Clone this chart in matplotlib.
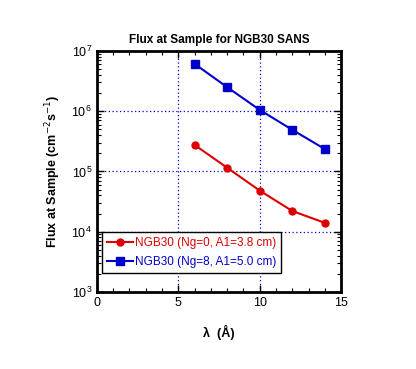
import matplotlib
matplotlib.use("Agg")
import matplotlib.pyplot as plt
from matplotlib.ticker import LogLocator, MultipleLocator, NullFormatter

plt.rcParams["font.family"] = ["Liberation Sans", "DejaVu Sans"]

wavelength = [6, 8, 10, 12, 14]
flux_ng0 = [2.75e5, 1.15e5, 4.8e4, 2.2e4, 1.4e4]
flux_ng8 = [6.1e6, 2.5e6, 1.05e6, 4.9e5, 2.35e5]
labels = ["NGB30 (Ng=0, A1=3.8 cm)", "NGB30 (Ng=8, A1=5.0 cm)"]

fig = plt.figure(figsize=(4.16, 3.69), dpi=100)
ax = fig.add_axes([0.233, 0.209, 0.587, 0.653])

ax.plot(wavelength, flux_ng0, color="#dd0000", marker="o", markersize=5,
        linewidth=1.5, label=labels[0])
ax.plot(wavelength, flux_ng8, color="#0000cc", marker="s", markersize=5.5,
        linewidth=1.5, label=labels[1])

ax.set_yscale("log")
ax.set_xlim(0, 15)
ax.set_ylim(1e3, 1e7)
ax.xaxis.set_major_locator(MultipleLocator(5))
ax.xaxis.set_minor_locator(MultipleLocator(1))
ax.yaxis.set_major_locator(LogLocator(base=10, numticks=10))
ax.yaxis.set_minor_locator(LogLocator(base=10, subs=range(2, 10), numticks=10))
ax.yaxis.set_minor_formatter(NullFormatter())

ax.grid(True, which="major", color="#0000dd", linestyle=(0, (1, 2)), linewidth=0.9)
ax.tick_params(which="both", direction="in", top=True, right=True, labelsize=9)
ax.tick_params(which="major", length=5, width=1)
ax.tick_params(which="minor", length=3, width=0.8)
for s in ax.spines.values():
    s.set_linewidth(2)

ax.set_title("Flux at Sample for NGB30 SANS", fontsize=8.5, fontweight="bold", pad=6)
ax.set_xlabel("λ  (Å)", fontsize=9, fontweight="bold", labelpad=12)
ax.set_ylabel("Flux at Sample (cm$^{-2}$s$^{-1}$)", fontsize=9, fontweight="bold",
              labelpad=6)

leg = ax.legend(loc="lower left", bbox_to_anchor=(0.02, 0.08), fontsize=8.5,
                frameon=True, fancybox=False, handlelength=2.2, borderpad=0.4,
                handletextpad=0.2, labelspacing=0.6, borderaxespad=0)
leg.get_frame().set_edgecolor("black")
leg.get_frame().set_linewidth(1)
leg.get_frame().set_alpha(1)
for t, c in zip(leg.get_texts(), ["#dd0000", "#0000cc"]):
    t.set_color(c)

fig.savefig("out.png", dpi=100)
